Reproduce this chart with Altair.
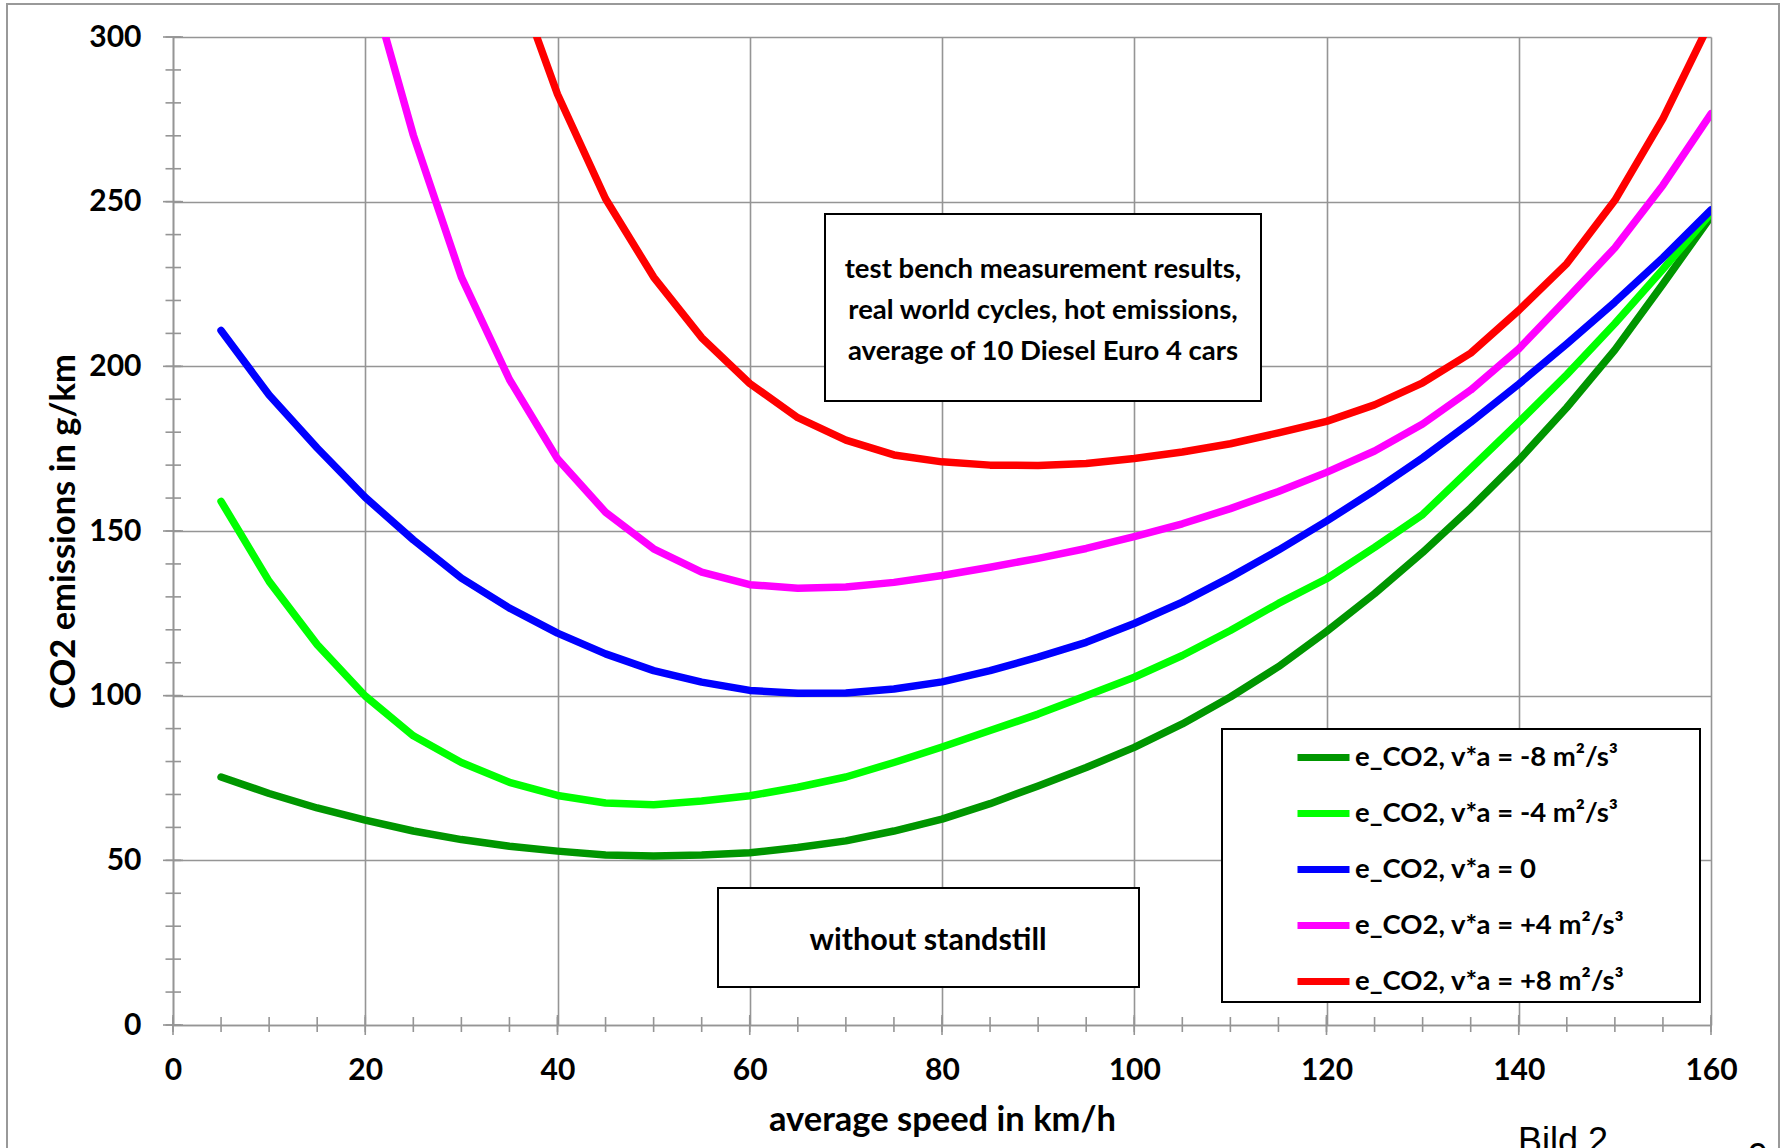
import altair as alt
import pandas as pd

# ---------------- data ----------------
speed = [5, 10, 15, 20, 25, 30, 35, 40, 45, 50, 55, 60, 65, 70, 75, 80,
         85, 90, 95, 100, 105, 110, 115, 120, 125, 130, 135, 140, 145, 150, 155, 160]

co2_m8 = [75.3, 70.3, 65.9, 62.2, 58.9, 56.3, 54.3, 52.8, 51.6, 51.3, 51.6, 52.3, 53.9, 55.9, 58.9, 62.5,
          67.2, 72.6, 78.2, 84.3, 91.4, 99.6, 108.8, 119.5, 131.0, 143.5, 157.0, 171.5, 187.5, 205.0, 225.0, 245.5]

co2_m4 = [159.0, 134.7, 115.5, 99.9, 87.8, 79.7, 73.7, 69.7, 67.4, 66.9, 68.0, 69.6, 72.2, 75.3, 79.7, 84.4,
          89.4, 94.4, 100.0, 105.6, 112.2, 119.8, 128.0, 135.5, 145.0, 155.0, 169.0, 183.0, 197.5, 213.0, 229.5, 246.5]

co2_0 = [210.9, 191.3, 175.2, 160.2, 147.3, 135.7, 126.6, 119.0, 112.7, 107.6, 104.1, 101.6, 100.7, 100.8, 102.0, 104.2,
         107.6, 111.7, 116.2, 121.9, 128.4, 136.0, 144.2, 153.0, 162.3, 172.2, 183.0, 194.6, 206.8, 219.5, 233.0, 247.5]

speed_p4 = [20, 25, 30, 35, 40, 45, 50, 55, 60, 65, 70, 75, 80, 85, 90, 95,
            100, 105, 110, 115, 120, 125, 130, 135, 140, 145, 150, 155, 160]
co2_p4 = [322.0, 270.2, 227.1, 196.0, 171.9, 155.7, 144.6, 137.5, 133.7, 132.6, 133.0, 134.4, 136.5, 139.0, 141.7, 144.7,
          148.3, 152.2, 156.8, 162.0, 167.8, 174.3, 182.5, 192.8, 205.3, 220.5, 236.0, 255.0, 276.7]

speed_p8 = [35, 40, 45, 50, 55, 60, 65, 70, 75, 80, 85, 90, 95,
            100, 105, 110, 115, 120, 125, 130, 135, 140, 145, 150, 155, 160]
co2_p8 = [323.0, 282.6, 250.9, 227.1, 208.7, 194.8, 184.4, 177.6, 173.1, 171.0, 170.0, 169.9, 170.5,
          172.0, 174.0, 176.5, 179.8, 183.3, 188.3, 195.0, 204.0, 217.0, 231.2, 250.4, 275.2, 305.0]

series_labels = ["e_CO2, v*a = -8 m²/s³", "e_CO2, v*a = -4 m²/s³", "e_CO2, v*a = 0",
                 "e_CO2, v*a = +4 m²/s³", "e_CO2, v*a = +8 m²/s³"]
series_colors = ["#009600", "#00ff00", "#0000ff", "#ff00ff", "#ff0000"]

x_label_values = [0, 20, 40, 60, 80, 100, 120, 140, 160]
y_label_values = [0, 50, 100, 150, 200, 250, 300]
x_minor_ticks = [0, 5, 10, 15, 20, 25, 30, 35, 40, 45, 50, 55, 60, 65, 70, 75, 80,
                 85, 90, 95, 100, 105, 110, 115, 120, 125, 130, 135, 140, 145, 150, 155, 160]
y_minor_ticks = [0, 10, 20, 30, 40, 50, 60, 70, 80, 90, 100, 110, 120, 130, 140, 150,
                 160, 170, 180, 190, 200, 210, 220, 230, 240, 250, 260, 270, 280, 290, 300]

note_main = "test bench measurement results,\nreal world cycles, hot emissions,\naverage of 10 Diesel Euro 4 cars"
note_small = "without standstill"
x_title = "average speed in km/h"
y_title = "CO2 emissions in g/km"

# ---------------- build tables ----------------
rows = []
for sx, sy, lab in [(speed, co2_m8, series_labels[0]), (speed, co2_m4, series_labels[1]),
                    (speed, co2_0, series_labels[2]), (speed_p4, co2_p4, series_labels[3]),
                    (speed_p8, co2_p8, series_labels[4])]:
    for a, b in zip(sx, sy):
        rows.append({"speed": a, "co2": b, "series": lab})
df = pd.DataFrame(rows)

W, H = 1538, 988
FONT = "Lato"
GRAY = "#959595"

xscale = alt.Scale(domain=[0, 160], nice=False, zero=False)
yscale = alt.Scale(domain=[0, 300], nice=False)

xaxis = alt.Axis(values=x_label_values, title=x_title, grid=True, ticks=False, tickSize=0,
                 labelFlush=False, labelOverlap=False,
                 labelPadding=30, labelFontSize=30, labelFont=FONT, labelFontWeight="bold",
                 labelColor="black", domainColor=GRAY, domainWidth=1.6,
                 gridColor=GRAY, gridWidth=1.6,
                 titleFont=FONT, titleFontWeight="bold", titleFontSize=34.5, titleColor="black",
                 titleX=W / 2, titleY=95, titleBaseline="middle", titleAlign="center")
yaxis = alt.Axis(values=y_label_values, title=y_title, grid=True, ticks=False, tickSize=0,
                 labelFlush=False, labelOverlap=False,
                 labelPadding=32, labelFontSize=30, labelFont=FONT, labelFontWeight="bold",
                 labelColor="black", domainColor=GRAY, domainWidth=1.6,
                 gridColor=GRAY, gridWidth=1.6,
                 titleFont=FONT, titleFontWeight="bold", titleFontSize=34.5, titleColor="black",
                 titleX=-109, titleY=H / 2, titleAngle=-90, titleBaseline="middle",
                 titleAlign="center")

one = pd.DataFrame({"k": [0]})

frame = alt.Chart(one).mark_rect(fill="white", fillOpacity=0, stroke="#999999", strokeWidth=2).encode(
    x=alt.value(-166), x2=alt.value(1606), y=alt.value(-33), y2=alt.value(1160))

lines = alt.Chart(df).mark_line(strokeWidth=7.5, clip=True, strokeCap="round", strokeJoin="round").encode(
    x=alt.X("speed:Q", scale=xscale, axis=xaxis),
    y=alt.Y("co2:Q", scale=yscale, axis=yaxis),
    color=alt.Color("series:N", scale=alt.Scale(domain=series_labels, range=series_colors),
                    legend=alt.Legend(title=None, orient="none", legendX=1121, legendY=691,
                                      symbolType="stroke", symbolSize=2704, symbolStrokeWidth=7,
                                      labelFont=FONT, labelFontWeight="bold", labelFontSize=27.5,
                                      labelColor="black", labelOffset=2, rowPadding=12,
                                      padding=0, labelLimit=500)),
)

legend_box = alt.Chart(one).mark_rect(fill="white", stroke="black", strokeWidth=2).encode(
    x=alt.value(1049), x2=alt.value(1527), y=alt.value(692), y2=alt.value(965))

box1 = alt.Chart(one).mark_rect(fill="white", stroke="black", strokeWidth=2).encode(
    x=alt.value(652), x2=alt.value(1088), y=alt.value(177), y2=alt.value(364))
text1 = alt.Chart(pd.DataFrame({"t": [note_main]})).mark_text(
    font=FONT, fontWeight="bold", fontSize=27.5, align="center", baseline="alphabetic",
    lineBreak="\n", lineHeight=41, color="black").encode(
    text="t:N", x=alt.value(870), y=alt.value(241))

box2 = alt.Chart(one).mark_rect(fill="white", stroke="black", strokeWidth=2).encode(
    x=alt.value(545), x2=alt.value(966), y=alt.value(851), y2=alt.value(950))
text2 = alt.Chart(pd.DataFrame({"t": [note_small]})).mark_text(
    font=FONT, fontWeight="bold", fontSize=30.5, align="center", baseline="alphabetic",
    color="black").encode(text="t:N", x=alt.value(755), y=alt.value(913))

xt_minor = alt.Chart(pd.DataFrame({"t": x_minor_ticks})).mark_rule(color=GRAY, strokeWidth=1.6).encode(
    x=alt.X("t:Q", scale=xscale, axis=xaxis), y=alt.value(H - 8), y2=alt.value(H + 7))
xt_major = alt.Chart(pd.DataFrame({"t": x_label_values})).mark_rule(color=GRAY, strokeWidth=1.6).encode(
    x=alt.X("t:Q", scale=xscale, axis=xaxis), y=alt.value(H - 10), y2=alt.value(H + 10))
yt_minor = alt.Chart(pd.DataFrame({"t": y_minor_ticks})).mark_rule(color=GRAY, strokeWidth=1.6).encode(
    y=alt.Y("t:Q", scale=yscale, axis=yaxis), x=alt.value(-7.5), x2=alt.value(8))
yt_major = alt.Chart(pd.DataFrame({"t": y_label_values})).mark_rule(color=GRAY, strokeWidth=1.6).encode(
    y=alt.Y("t:Q", scale=yscale, axis=yaxis), x=alt.value(-10), x2=alt.value(10))

bild = alt.Chart(pd.DataFrame({"t": ["Bild 2"]})).mark_text(
    font="Liberation Sans", fontSize=36, align="center", baseline="alphabetic", color="black").encode(
    text="t:N", x=alt.value(1390), y=alt.value(1116))
page = alt.Chart(pd.DataFrame({"t": ["9"]})).mark_text(
    font="Liberation Sans", fontSize=36, align="center", baseline="alphabetic", color="black").encode(
    text="t:N", x=alt.value(1585), y=alt.value(1132))

chart = alt.layer(frame, lines, legend_box, box1, text1, box2, text2,
                  xt_minor, xt_major, yt_minor, yt_major, bild, page).properties(
    width=W, height=H,
    autosize=alt.AutoSizeParams(type="none"),
    padding={"left": 173, "top": 37, "right": 74, "bottom": 123},
    background="white",
).configure_view(stroke=None)

chart.save("out.html", embed_options={"renderer": "svg", "actions": False})
